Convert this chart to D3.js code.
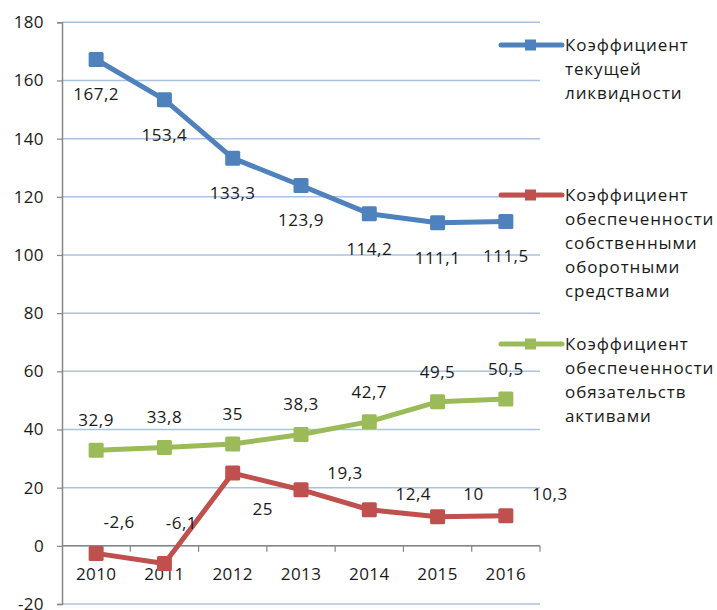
<!DOCTYPE html>
<html><head><meta charset="utf-8">
<script src="https://cdn.jsdelivr.net/npm/d3@7"></script>
<style>
html,body{margin:0;padding:0;background:#fff;}
text{font-family:"Open Sans",sans-serif;fill:#1a1a1a;}
</style></head>
<body>
<svg id="chart" width="717" height="610"></svg>
<script>
const years = ["2010","2011","2012","2013","2014","2015","2016"];
const currentLiquidity = [167.2,153.4,133.3,123.9,114.2,111.1,111.5];
const ownWorkingCapital = [-2.6,-6.1,25,19.3,12.4,10,10.3];
const liabilitiesCoverage = [32.9,33.8,35,38.3,42.7,49.5,50.5];
const yTicks = [-20,0,20,40,60,80,100,120,140,160,180];
const seriesNames = [
  ["Коэффициент","текущей","ликвидности"],
  ["Коэффициент","обеспеченности","собственными","оборотными","средствами"],
  ["Коэффициент","обеспеченности","обязательств","активами"]
];

// layout (pixels) for label placement
const redLabelDx = [23,17,30,44,44,36,44];
const redLabelDy = [-31,-41,36,-17,-16,-23,-22];

const svg = d3.select("#chart");
const pLeft = 62, pRight = 540, pTop = 22.3, pBottom = 604;
const x = d3.scaleBand().domain(years).range([pLeft,pRight]).padding(0);
const y = d3.scaleLinear().domain([-20,180]).range([pBottom,pTop]);
const cx = d => x(d) + x.bandwidth()/2;
const fmt = v => String(v).replace(".", ",");

// gridlines
svg.append("g").selectAll("line").data(yTicks).join("line")
  .attr("x1",pLeft).attr("x2",pRight)
  .attr("y1",d=>y(d)).attr("y2",d=>y(d))
  .attr("stroke","#a9c2e2").attr("stroke-width",1.5);

// y axis
const yAxis = svg.append("g").attr("transform",`translate(${pLeft},0)`)
  .call(d3.axisLeft(y).tickValues(yTicks).tickSize(5).tickPadding(13).tickFormat(d=>d));
yAxis.select(".domain").attr("stroke","#868686").attr("stroke-width",1.5);
yAxis.selectAll(".tick line").attr("stroke","#868686").attr("stroke-width",1.2);
yAxis.selectAll("text").attr("font-size",17).attr("font-family","Open Sans").attr("fill","#1a1a1a").attr("letter-spacing","0.4px");

// x axis at zero
const xAxis = svg.append("g").attr("transform",`translate(0,${y(0)})`)
  .call(d3.axisBottom(x).tickSize(0).tickPadding(22));
xAxis.select(".domain").remove();
xAxis.selectAll("text").attr("font-size",17).attr("font-family","Open Sans").attr("fill","#1a1a1a").attr("letter-spacing","0.4px");
svg.append("line").attr("x1",pLeft).attr("x2",pRight).attr("y1",y(0)).attr("y2",y(0))
  .attr("stroke","#868686").attr("stroke-width",1.5);
const edges = years.map(d=>x(d)+x.bandwidth());
svg.append("g").selectAll("line").data(edges).join("line")
  .attr("x1",d=>d).attr("x2",d=>d).attr("y1",y(0)).attr("y2",y(0)+6)
  .attr("stroke","#868686").attr("stroke-width",1.2);

const series = [
  {vals:currentLiquidity,color:"#4f81bd"},
  {vals:ownWorkingCapital,color:"#c0504d"},
  {vals:liabilitiesCoverage,color:"#9bbb59"}
];
const line = d3.line().x((d,i)=>cx(years[i])).y(d=>y(d));
const mk = 15;
series.forEach(s=>{
  svg.append("path").datum(s.vals).attr("d",line)
    .attr("fill","none").attr("stroke",s.color).attr("stroke-width",5)
    .attr("stroke-linejoin","round").attr("stroke-linecap","round");
  svg.append("g").selectAll("rect").data(s.vals).join("rect")
    .attr("x",(d,i)=>cx(years[i])-mk/2).attr("y",d=>y(d)-mk/2)
    .attr("width",mk).attr("height",mk).attr("rx",1.5)
    .attr("fill",s.color);
});

// data labels
function labels(vals, dxf, dyf){
  svg.append("g").selectAll("text").data(vals).join("text")
    .attr("x",(d,i)=>cx(years[i])+dxf(i))
    .attr("y",(d,i)=>y(d)+dyf(i))
    .attr("dy","0.35em").attr("text-anchor","middle")
    .attr("font-size",17).attr("letter-spacing","0.5px")
    .text(d=>fmt(d));
}
labels(currentLiquidity, ()=>0, ()=>35);
labels(liabilitiesCoverage, ()=>0, ()=>-30);
labels(ownWorkingCapital, i=>redLabelDx[i], i=>redLabelDy[i]);

// legend
const legendY = [45,195,344];
const lg = svg.append("g");
series.forEach((s,k)=>{
  const g = lg.append("g").attr("transform",`translate(0,${legendY[k]})`);
  g.append("line").attr("x1",501).attr("x2",562).attr("y1",0).attr("y2",0)
    .attr("stroke",s.color).attr("stroke-width",5).attr("stroke-linecap","round");
  g.append("rect").attr("x",525).attr("y",-5.5).attr("width",11).attr("height",11).attr("fill",s.color);
  const t = g.append("text").attr("x",565).attr("y",0).attr("font-size",17).attr("letter-spacing","0.9px");
  seriesNames[k].forEach((w,j)=>{
    t.append("tspan").attr("x",565).attr("y",j*24).attr("dy","0.35em").text(w);
  });
});
</script>
</body></html>
